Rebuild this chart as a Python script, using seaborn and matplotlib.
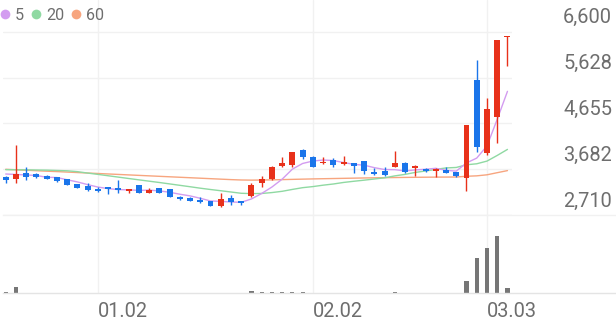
import numpy as np
import pandas as pd
import matplotlib
matplotlib.use("Agg")
import matplotlib.pyplot as plt
import seaborn as sns
from matplotlib.lines import Line2D
from matplotlib.transforms import ScaledTranslation, blended_transform_factory

# ---------------- data ----------------
opens = [3510, 3475, 3595, 3575, 3545, 3510, 3470, 3360, 3325, 3270,
         3300, 3275, 3225, 3340, 3185, 3285, 3255, 3100, 3075, 3030,
         3005, 2900, 3070, 3005, 3115, 3385, 3470, 3755, 3770, 4090,
         3945, 3805, 3875, 3785, 3805, 3860, 3620, 3650, 3735, 3820,
         3715, 3680, 3650, 3665, 3615, 3490, 5575, 4020, 4785, 6480]
highs = [3530, 4195, 3735, 3610, 3565, 3525, 3475, 3370, 3385, 3310,
         3305, 3455, 3260, 3345, 3275, 3290, 3260, 3115, 3085, 3085,
         3015, 3170, 3135, 3015, 3395, 3545, 3745, 3945, 4055, 4105,
         3955, 3945, 3915, 3960, 3815, 3865, 3700, 3735, 4075, 3825,
         3770, 3700, 3700, 3735, 3630, 4620, 6000, 5185, 6425, 6510]
lows = [3395, 3395, 3455, 3500, 3470, 3415, 3340, 3285, 3225, 3200,
        3155, 3185, 3170, 3180, 3170, 3180, 3095, 3030, 3005, 2970,
        2895, 2885, 2930, 2930, 3100, 3310, 3460, 3735, 3735, 3890,
        3730, 3785, 3735, 3770, 3610, 3580, 3560, 3540, 3735, 3595,
        3545, 3630, 3525, 3595, 3510, 3225, 4055, 3985, 4245, 5880]
closes = [3455, 3580, 3525, 3525, 3475, 3425, 3345, 3290, 3240, 3215,
          3260, 3240, 3260, 3185, 3240, 3185, 3100, 3050, 3005, 2985,
          2900, 3050, 2985, 2970, 3345, 3480, 3735, 3820, 4040, 3945,
          3735, 3840, 3765, 3830, 3755, 3645, 3580, 3565, 3815, 3630,
          3750, 3645, 3670, 3595, 3545, 4620, 4160, 4960, 6425, 6510]
volumes = [90, 650, 80, 70, 70, 60, 70, 60, 70, 60,
           70, 60, 70, 60, 70, 60, 80, 70, 70, 60,
           70, 70, 70, 60, 200, 90, 90, 90, 100, 90,
           80, 70, 70, 70, 70, 70, 70, 60, 180, 70,
           70, 60, 70, 60, 80, 1200, 3550, 4500, 5760, 530]
ma5 = [3580, 3570, 3560, 3548, 3511, 3505, 3458, 3412, 3355, 3303,
       3270, 3249, 3244, 3232, 3238, 3222, 3193, 3151, 3116, 3065,
       3008, 2999, 2986, 2979, 3051, 3167, 3304, 3471, 3684, 3804,
       3855, 3877, 3866, 3823, 3785, 3767, 3715, 3675, 3672, 3646,
       3667, 3680, 3701, 3658, 3641, 3815, 3918, 4175, 4741, 5334]
ma20 = [3672, 3670, 3668, 3665, 3662, 3655, 3648, 3630, 3600, 3572,
        3543, 3514, 3485, 3456, 3428, 3400, 3370, 3340, 3310, 3279,
        3251, 3225, 3198, 3171, 3164, 3167, 3186, 3213, 3253, 3290,
        3313, 3343, 3368, 3401, 3426, 3449, 3474, 3499, 3540, 3572,
        3614, 3644, 3678, 3709, 3719, 3776, 3797, 3854, 3974, 4102]
ma60 = [3680, 3670, 3660, 3650, 3640, 3631, 3621, 3611, 3601, 3591,
        3581, 3571, 3561, 3551, 3541, 3531, 3521, 3511, 3501, 3491,
        3481, 3471, 3461, 3453, 3450, 3452, 3456, 3461, 3466, 3471,
        3476, 3480, 3484, 3488, 3492, 3496, 3499, 3502, 3505, 3508,
        3510, 3512, 3514, 3515, 3516, 3532, 3541, 3563, 3608, 3652]
price_ticks = [2710, 3682, 4655, 5628, 6600]
date_ticks = [9, 30, 47]
date_labels = ["01.02", "02.02", "03.03"]
ma_labels = ["5", "20", "60"]

# ---------------- style ----------------
sns.set_style("white")
plt.rcParams["font.family"] = ["Roboto", "DejaVu Sans"]

RED = "#e8311a"
BLUE = "#1a75ea"
MA_COLORS = {"5": "#d39cf0", "20": "#8fd9a2", "60": "#f7a57f"}
TXT = "#6e6e6e"
GRID = "#f1f1f1"

W, H = 616, 321
fig = plt.figure(figsize=(W / 100, H / 100), dpi=100)

# axes geometry in pixels
px_left, px_price_right, px_top, px_price_bottom, px_vol_bottom = 3, 512, 0, 215, 293.3
ax = fig.add_axes([px_left / W, (H - px_price_bottom) / H,
                   (px_price_right - px_left) / W, (px_price_bottom - px_top) / H])
axv = fig.add_axes([px_left / W, (H - px_vol_bottom) / H,
                    (W - px_left) / W, (px_vol_bottom - px_price_bottom) / H])

idx = np.arange(len(closes))
o = np.array(opens, float); c = np.array(closes, float)
hi = np.array(highs, float); lo = np.array(lows, float)
up = c >= o
cols = np.where(up, RED, BLUE)

# price scale
unit_per_px = (price_ticks[-1] - price_ticks[0]) / (px_price_bottom - 31.7)
ax.set_ylim(price_ticks[0], price_ticks[0] + unit_per_px * (px_price_bottom - px_top))
step_px = 10.24
first_px = 5.7
ax.set_xlim((px_left - first_px) / step_px, (px_price_right - first_px) / step_px)

# moving averages
ma_df = pd.DataFrame({
    "idx": np.tile(idx, 3),
    "price": ma60 + ma20 + ma5,
    "period": ["60"] * len(idx) + ["20"] * len(idx) + ["5"] * len(idx),
})
sns.lineplot(data=ma_df, x="idx", y="price", hue="period", palette=MA_COLORS,
             linewidth=1.0, legend=False, ax=ax, zorder=2)

# candles
ax.vlines(idx, lo, hi, colors=cols, linewidth=1.0, zorder=3)
min_h = unit_per_px * 1.3
body_h = np.maximum(np.abs(c - o), min_h)
ax.bar(idx, body_h, bottom=np.minimum(o, c), width=0.58, color=cols,
       linewidth=0, zorder=4)

# grid / ticks for price axes
ax.set_yticks(price_ticks)
ax.set_xticks(date_ticks)
ax.grid(True, color=GRID, linewidth=1.0)
ax.set_axisbelow(True)
ax.tick_params(length=0, labelleft=False, labelbottom=False)
ax.set_xlabel(""); ax.set_ylabel("")
for s in ax.spines.values():
    s.set_visible(False)

# right-side price labels, drawn just above their grid lines
tr = blended_transform_factory(ax.transAxes, ax.transData) + \
    ScaledTranslation(0, 14 / 100, fig.dpi_scale_trans)
x_lab = (612 - px_left) / (px_price_right - px_left)
for v in price_ticks:
    ax.text(x_lab, v, f"{v:,}", transform=tr, ha="right", va="center",
            fontsize=14.4, color=TXT, clip_on=False)

# legend
handles = [Line2D([], [], marker="o", linestyle="", markersize=7.0,
                  markerfacecolor=MA_COLORS[k], markeredgewidth=0) for k in ma_labels]
ax.legend(handles, ma_labels, loc="upper left", ncol=3, frameon=False,
          bbox_to_anchor=(0.5 / W, 1 - 7.5 / H), bbox_transform=fig.transFigure,
          borderpad=0, borderaxespad=0, handlelength=0.6, handletextpad=0.3,
          columnspacing=0.45, fontsize=11.6, labelcolor=TXT)

# volume
sns.barplot(x=idx, y=volumes, native_scale=True, color="#767676", width=0.4,
            saturation=1, linewidth=0, ax=axv)
axv.set_xlim((px_left - first_px) / step_px, (W - first_px) / step_px)
axv.set_ylim(0, 100 * (px_vol_bottom - px_price_bottom))
axv.set_xticks(date_ticks)
axv.set_xticklabels(date_labels)
axv.set_yticks([])
axv.grid(True, axis="x", color=GRID, linewidth=1.0)
axv.set_axisbelow(True)
axv.tick_params(axis="x", length=0, pad=6.5, labelsize=14.4, labelcolor=TXT)
for lbl in axv.get_xticklabels():
    lbl.set_horizontalalignment("left")
axv.set_xlabel(""); axv.set_ylabel("")
for k, s in axv.spines.items():
    s.set_visible(k in ("top", "bottom"))
axv.spines["top"].set_color(GRID)
axv.spines["top"].set_linewidth(1.0)
axv.spines["bottom"].set_color("#e4e4e4")
axv.spines["bottom"].set_linewidth(1.0)

fig.savefig("out.png", dpi=100)
